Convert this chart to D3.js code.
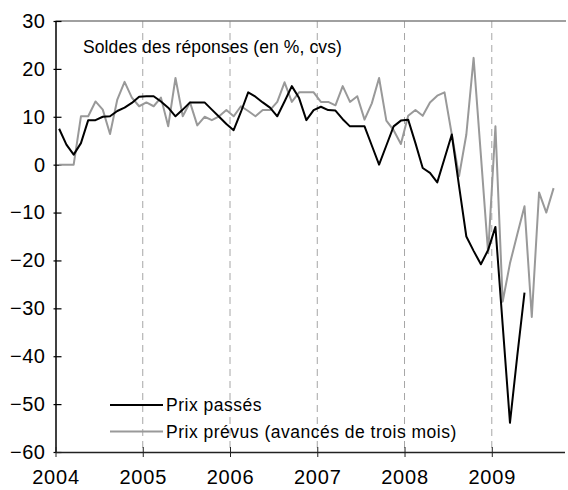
<!DOCTYPE html>
<html>
<head>
<meta charset="utf-8">
<script src="https://cdn.jsdelivr.net/npm/d3@7"></script>
<style>
  body { margin: 0; background: #fff; }
  svg text { font-family: "Liberation Sans", Arial, sans-serif; fill: #000; }
</style>
</head>
<body>
<div id="chart"></div>
<script>
// Monthly data, first point = January 2004
var startYear = 2004;
var prixPasses = [7.5, 4.2, 2.1, 4.5, 9.3, 9.3, 10, 10.1, 11.2, 11.9,
  12.9, 14.2, 14.3, 14.3, 13.2, 11.9, 10.1, 11.5, 13, 13,
  13, 11.5, 10, 8.5, 7.2, 11, 15.1, 14.2, 13, 11.9,
  10.1, 13.2, 16.4, 13.9, 9.3, 11.4, 12.1, 11.4, 11.3, 9.5,
  8, 8, 8, 4, 0, 4, 8, 9.2, 9.4, 4.5,
  -0.7, -1.7, -3.7, 1.3, 6.3, -4.5, -15, -18, -20.8, -17.8,
  -13, -33.5, -53.9, -40, -26.7];
var prixPrevus = [0, 0, 0, 10.1, 10.1, 13.2, 11.5, 6.4, 13.6, 17.3,
  14, 12.2, 13, 12.2, 14, 8, 18.1, 10.1, 13, 8.2,
  10, 9.3, 10.1, 11.4, 10.1, 12.2, 11.2, 10.1, 11.4, 11.4,
  13.1, 17.2, 13.1, 15.1, 15.1, 15.1, 13.1, 13.1, 12.4, 16.4,
  13.1, 14.3, 9.4, 12.8, 18.1, 9.2, 7.2, 4.3, 10.2, 11.4,
  10.2, 13, 14.4, 15.1, 6.3, -2.4, 6.3, 22.3, 2, -18.5,
  8, -28.6, -20.6, -14.6, -8.7, -31.8, -5.8, -10, -4.9];
var yearTicks = [2004, 2005, 2006, 2007, 2008, 2009];
var dashedYears = [2005, 2006, 2007, 2008, 2009];
var yTicks = [-60, -50, -40, -30, -20, -10, 0, 10, 20, 30];
var titleText = "Soldes des réponses (en %, cvs)";
var legendLabels = ["Prix passés", "Prix prévus (avancés de trois mois)"];

var width = 568, height = 490;
var plotLeft = 55.5, plotRight = 564.5, plotTop = 21, plotBottom = 452;

var svg = d3.select("#chart").append("svg")
  .attr("width", width)
  .attr("height", height);

var x = d3.scaleLinear()
  .domain([startYear, startYear + 70 / 12])
  .range([plotLeft, plotRight]);

var y = d3.scaleLinear()
  .domain([-60, 30])
  .range([plotBottom, plotTop]);

function monthX(d, i) { return x(startYear + (i + 0.5) / 12); }

// dashed year separators
svg.selectAll(".sep")
  .data(dashedYears)
  .join("line")
    .attr("x1", function(d) { return x(d); })
    .attr("x2", function(d) { return x(d); })
    .attr("y1", plotTop)
    .attr("y2", plotBottom)
    .attr("stroke", "#a6a6a6")
    .attr("stroke-width", 1)
    .attr("stroke-dasharray", "7,5");

// top border
svg.append("line")
  .attr("x1", plotLeft).attr("x2", width - 2)
  .attr("y1", plotTop).attr("y2", plotTop)
  .attr("stroke", "#808080")
  .attr("stroke-width", 1.5);

// y axis
var yAxis = svg.append("g")
  .attr("transform", "translate(" + plotLeft + ",0)")
  .call(d3.axisLeft(y).tickValues(yTicks).tickSize(0).tickPadding(10));
yAxis.select(".domain").attr("stroke", "#000").attr("stroke-width", 1.5);
yAxis.selectAll(".tick line").attr("x1", -2).attr("x2", 6).attr("stroke", "#000").attr("stroke-width", 1.2);
yAxis.selectAll(".tick text").style("font-size", "20px").style("letter-spacing", "0.5px").attr("fill", "#000");

// x axis
var xAxis = svg.append("g")
  .attr("transform", "translate(0," + plotBottom + ")")
  .call(d3.axisBottom(x).tickValues(yearTicks).tickFormat(d3.format("d")).tickSize(0).tickPadding(18));
xAxis.select(".domain").attr("stroke", "#222").attr("stroke-width", 1.5);
xAxis.selectAll(".tick line").attr("y1", -5).attr("y2", 5).attr("stroke", "#222").attr("stroke-width", 1);
xAxis.selectAll(".tick text").style("font-size", "20px").style("letter-spacing", "0.8px").attr("fill", "#000");

// series
var line = d3.line()
  .x(monthX)
  .y(function(d) { return y(d); });

svg.append("path")
  .datum(prixPrevus)
  .attr("d", line)
  .attr("fill", "none")
  .attr("stroke", "#999")
  .attr("stroke-width", 2)
  .attr("stroke-linejoin", "round");

svg.append("path")
  .datum(prixPasses)
  .attr("d", line)
  .attr("fill", "none")
  .attr("stroke", "#000")
  .attr("stroke-width", 2)
  .attr("stroke-linejoin", "round");

// title
svg.append("text")
  .attr("x", 83)
  .attr("y", 53)
  .style("font-size", "17.5px")
  .style("letter-spacing", "0.1px")
  .text(titleText);

// legend
var legendColors = ["#000", "#999"];
var legend = svg.selectAll(".legend")
  .data(legendLabels)
  .join("g")
    .attr("transform", function(d, i) { return "translate(110," + (405 + i * 26.5) + ")"; });
legend.append("line")
  .attr("x1", 0).attr("x2", 53)
  .attr("stroke", function(d, i) { return legendColors[i]; })
  .attr("stroke-width", 2);
legend.append("text")
  .attr("x", 56)
  .attr("dy", "0.35em")
  .style("font-size", "17.5px")
  .style("letter-spacing", "0.5px")
  .text(function(d) { return d; });
</script>
</body>
</html>
